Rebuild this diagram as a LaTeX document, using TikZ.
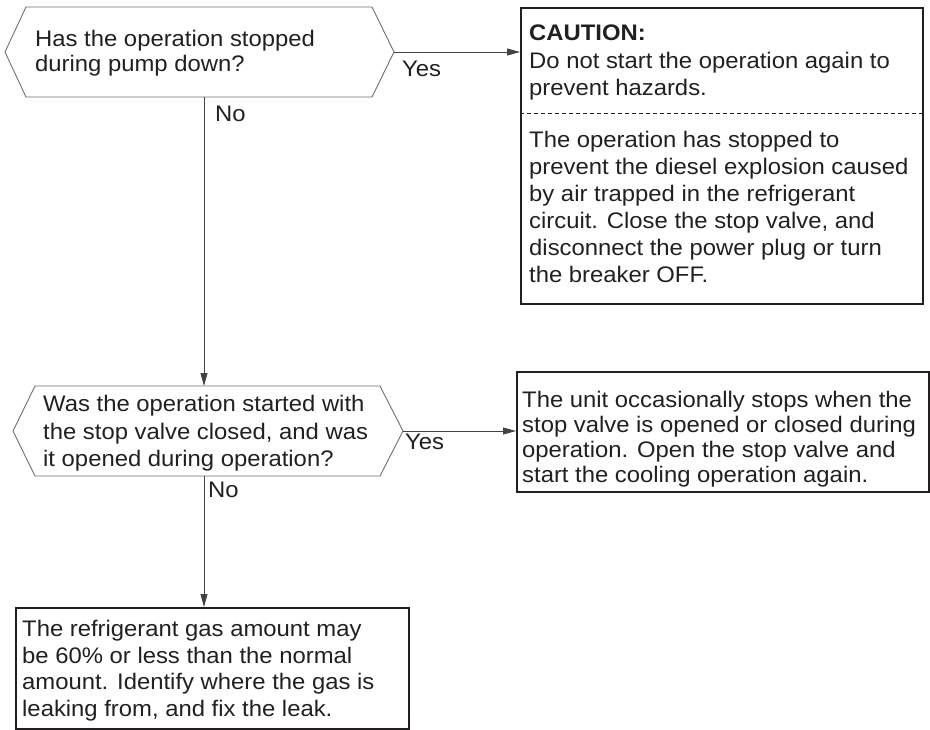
\documentclass[tikz,border=0pt]{standalone}
\usepackage{fontspec}
\setmainfont{Liberation Sans}[FakeStretch=1.06]
\usetikzlibrary{arrows.meta}
\definecolor{ink}{HTML}{231F20}
\definecolor{hexline}{HTML}{6D6E70}
\tikzset{
  txt/.style={anchor=north west, inner sep=0pt, align=left, text=ink},
  bx/.style={draw=ink, line width=1.8pt, anchor=north west, inner sep=0pt},
  hexa/.style={draw=hexline, line width=0.9pt},
  arr/.style={draw=ink!85, line width=0.9pt, -{Triangle[length=13pt,width=7pt]}},
  lbl/.style={anchor=north west, inner sep=0pt, text=ink, font=\fontsize{22.5}{25}\selectfont},
  fs/.style={font=\fontsize{22.5}{#1}\selectfont}
}
\begin{document}
\begin{tikzpicture}[x=1pt,y=-1pt]
\useasboundingbox (0,0) rectangle (930,729);
% hexagon 1
\coordinate (h1l) at (5,52);
\coordinate (h1tl) at (26,7);
\coordinate (h1tr) at (372,7);
\coordinate (h1r) at (394,52);
\coordinate (h1br) at (372,97);
\coordinate (h1bl) at (26,97);
\coordinate (h1b) at (204,97);
\draw[hexa] (h1l) -- (h1tl) -- (h1tr) -- (h1r) -- (h1br) -- (h1bl) -- cycle;
\node[txt, fs=25] (q1) at (35,30) {Has the operation stopped\\during pump down?};
% hexagon 2
\coordinate (h2l) at (13,431);
\coordinate (h2tl) at (35,386);
\coordinate (h2tr) at (380,386);
\coordinate (h2r) at (403,431);
\coordinate (h2br) at (380,476);
\coordinate (h2bl) at (35,476);
\coordinate (h2t) at (204,386);
\coordinate (h2b) at (204,476);
\draw[hexa] (h2l) -- (h2tl) -- (h2tr) -- (h2r) -- (h2br) -- (h2bl) -- cycle;
\node[txt, fs=27.5] (q2) at (43,395) {Was the operation started with\\the stop valve closed, and was\\it opened during operation?};
% caution box
\node[bx, minimum width=402pt, minimum height=296pt] (caut) at (520,7) {};
\coordinate (dl) at (520,113);
\coordinate (dr) at (922,113);
\draw[ink, line width=0.8pt, dash pattern=on 4pt off 3pt] (dl) -- (dr);
\node[txt, fs=27.5] (c1) at (529,25) {\textbf{CAUTION:}\\Do not start the operation again to\\prevent hazards.};
\node[txt, fs=27] (c2) at (529,131) {The operation has stopped to\\prevent the diesel explosion caused\\by air trapped in the refrigerant\\circuit. Close the stop valve, and\\disconnect the power plug or turn\\the breaker OFF.};
% box 2
\node[bx, minimum width=412pt, minimum height=120pt] (b2) at (516,371) {};
\node[txt, fs=25] (t2) at (522,391) {The unit occasionally stops when the\\stop valve is opened or closed during\\operation. Open the stop valve and\\start the cooling operation again.};
% box 3
\node[bx, minimum width=393pt, minimum height=121pt] (b3) at (15,607) {};
\node[txt, fs=26.7] (t3) at (22,620) {The refrigerant gas amount may\\be 60\% or less than the normal\\amount. Identify where the gas is\\leaking from, and fix the leak.};
% connectors
\draw[arr] (h1r) -- (h1r -| caut.west);
\draw[arr] (h1b) -- (h2t);
\draw[arr] (h2r) -- (h2r -| b2.west);
\draw[arr] (h2b) -- (h2b |- b3.north);
% labels
\node[lbl] (y1) at (402,61) {Yes};
\node[lbl] (n1) at (215,106) {No};
\node[lbl] (y2) at (405,434) {Yes};
\node[lbl] (n2) at (208,482) {No};
\end{tikzpicture}
\end{document}
